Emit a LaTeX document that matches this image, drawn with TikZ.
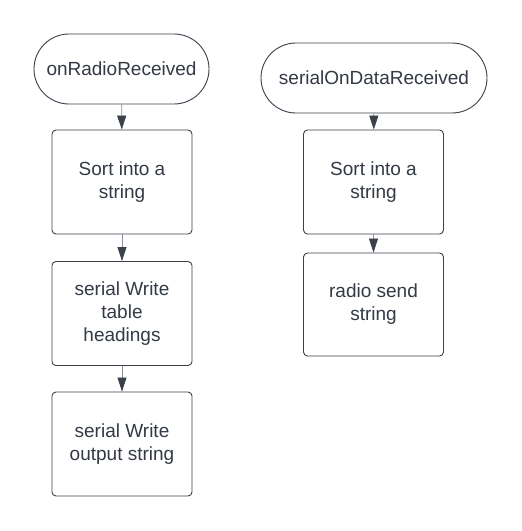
\documentclass[tikz,border=0pt]{standalone}
\usepackage{fontspec}
\setmainfont{Liberation Sans}
\usetikzlibrary{arrows.meta}
\definecolor{txtc}{HTML}{333A45}
\definecolor{bordc}{HTML}{3A414B}
\definecolor{linec}{HTML}{8C9096}
\begin{document}
\begin{tikzpicture}[x=1pt,y=-1pt,
  base/.style={draw=bordc, line width=0.9pt, text=txtc, align=center, inner sep=0pt,
    font=\fontsize{19pt}{23pt}\selectfont},
  term/.style={base, rectangle, rounded corners=35pt, minimum height=70pt},
  procbox/.style={base, rectangle, rounded corners=4pt, minimum width=140pt, minimum height=104pt},
  conn/.style={draw=linec, line width=0.8pt, -{Triangle[length=14pt,width=9pt,color=bordc]}}
]
\useasboundingbox (0,0) rectangle (522,531);
\fill[white] (0,0) rectangle (522,531);
% left column
\node[term, minimum width=175pt] (t1) at (121.5,69) {onRadioReceived};
\node[procbox] (l1) at (122,182) {Sort into a\\string};
\node[procbox] (l2) at (122,313.5) {serial Write\\table\\headings};
\node[procbox] (l3) at (122,444) {serial Write\\output string};
% right column
\node[term, minimum width=226pt] (t2) at (374,78) {serialOnDataReceived};
\node[procbox] (r1) at (373.5,182) {Sort into a\\string};
\node[procbox, minimum height=103pt] (r2) at (373.5,304.5) {radio send\\string};
% connectors
\draw[conn] (t1) -- (l1);
\draw[conn] (l1) -- (l2);
\draw[conn] (l2) -- (l3);
\draw[conn] (t2) -- (r1);
\draw[conn] (r1) -- (r2);
\end{tikzpicture}
\end{document}
